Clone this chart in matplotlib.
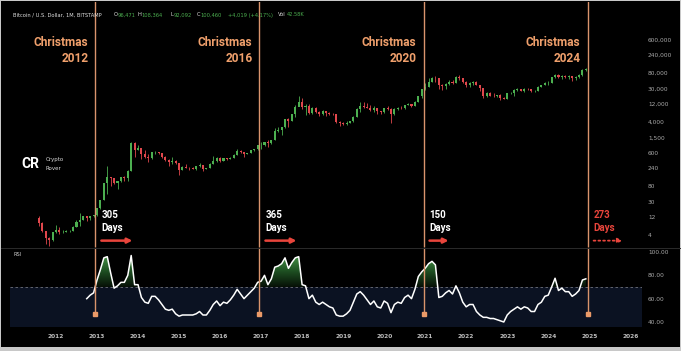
import numpy as np
import matplotlib.pyplot as plt
from matplotlib import transforms
from matplotlib.colors import LinearSegmentedColormap
from matplotlib.patches import Rectangle, PathPatch
from matplotlib.path import Path
from matplotlib.lines import Line2D

# --- data: BITSTAMP BTC/USD monthly candles, Aug 2011 .. Dec 2024 ---
first_month = 2011 + 7 / 12
first_open = 11.0

closes = [
    8.2, 5.1, 3.25, 3.0, 4.72,
    5.5, 4.9, 4.9, 5.0, 5.2, 6.7, 9.0, 10.1, 12.4, 11.2, 12.6, 13.5,
    20.4, 33.4, 93.0, 139, 129, 97, 106, 135, 133, 198, 1130, 732,
    800, 565, 455, 445, 628, 640, 585, 480, 387, 338, 378, 320,
    217, 254, 244, 236, 230, 263, 284, 230, 236, 313, 378, 430,
    368, 437, 416, 448, 531, 673, 624, 574, 609, 700, 742, 964,
    965, 1190, 1080, 1348, 2300, 2480, 2875, 4700, 4340, 6450, 9950, 13850,
    10220, 10330, 6930, 9240, 7500, 6400, 7730, 7030, 6625, 6300, 4020, 3740,
    3440, 3810, 4100, 5320, 8550, 10800, 10080, 9590, 8300, 9150, 7550, 7195,
    9350, 8540, 6420, 8620, 9450, 9140, 11330, 11650, 10780, 13790, 19700, 28990,
    33110, 45240, 58800, 57700, 37300, 35040, 41460, 47100, 43800, 61300, 57000, 46200,
    38480, 43180, 45530, 37640, 31790, 19940, 23300, 20050, 19430, 20490, 17170, 16540,
    23130, 23140, 28480, 29250, 27210, 30470, 29230, 25940, 26970, 34650, 37720, 42280,
    42580, 61170, 71290, 60670, 67520, 62700, 64630, 58970, 63330, 70290, 96450, 100460,
]
highs = [
    13.0, 8.7, 5.2, 3.5, 4.8,
    7.4, 6.5, 5.4, 5.3, 5.3, 6.9, 9.7, 15.4, 12.8, 12.6, 12.8, 13.9,
    20.5, 33.5, 93.0, 266, 140, 130, 110, 137, 145, 214, 1163, 1150,
    950, 830, 710, 548, 630, 680, 650, 600, 490, 415, 458, 380,
    320, 265, 300, 261, 247, 267, 317, 286, 244, 331, 496, 469,
    463, 447, 440, 467, 550, 780, 705, 626, 617, 720, 755, 975,
    1150, 1200, 1290, 1350, 2770, 2990, 2920, 4770, 4980, 6470, 11400, 19666,
    17200, 11780, 11700, 9750, 10000, 7780, 8500, 7770, 7400, 6970, 6590, 4230,
    4090, 4200, 4150, 5640, 9080, 13880, 13200, 12330, 10950, 10370, 9500, 7750,
    9580, 10500, 9190, 9470, 10080, 10400, 11430, 12470, 12050, 14100, 19900, 29300,
    41900, 58350, 61780, 64900, 59600, 41300, 42400, 50500, 52900, 67000, 69000, 59100,
    47900, 45800, 48200, 47400, 39000, 31900, 24700, 25200, 22800, 21000, 21500, 18400,
    23950, 25250, 29200, 31000, 29800, 31400, 31800, 30200, 27500, 35200, 38400, 44700,
    48970, 64000, 73800, 72800, 71900, 71900, 70000, 65100, 66500, 73600, 99800, 108364,
]
lows = [
    7.1, 4.8, 2.3, 2.0, 2.8,
    4.6, 4.2, 4.6, 4.7, 4.9, 5.2, 6.5, 7.1, 9.9, 9.6, 10.1, 12.2,
    12.9, 19.6, 33.2, 50, 79, 88, 65, 102, 109, 110, 196, 455,
    730, 420, 440, 340, 420, 550, 565, 440, 365, 275, 310, 300,
    152, 212, 240, 214, 226, 218, 253, 198, 224, 235, 306, 347,
    352, 366, 391, 414, 444, 530, 608, 470, 570, 605, 690, 740,
    750, 920, 890, 1065, 1330, 2130, 1840, 2700, 2980, 4110, 5500, 10700,
    9000, 6000, 6600, 6430, 7030, 5780, 6070, 5880, 6100, 6200, 3650, 3120,
    3360, 3390, 3670, 4030, 5320, 7440, 9070, 9320, 7710, 7300, 6520, 6430,
    6850, 8440, 3850, 6150, 8110, 8900, 8990, 10990, 9880, 10420, 13200, 17580,
    28100, 33400, 45000, 47000, 30000, 28800, 29300, 37300, 39600, 43300, 53300, 42000,
    32900, 34300, 37200, 37600, 26700, 17600, 18800, 19600, 18200, 18200, 15500, 16300,
    16500, 21400, 19600, 26900, 25800, 24800, 28900, 25200, 24900, 26600, 34100, 37600,
    38500, 41900, 59000, 59200, 56500, 58500, 53500, 49000, 52600, 58900, 66800, 92092,
]

# RSI(14), Oct 2012 .. Dec 2024
rsi_start = 2012 + 9 / 12
rsi = [
    60, 63, 65,
    76, 85, 95, 96, 82, 69, 71, 74, 74, 80, 97, 72,
    72, 61, 57, 56, 62, 62, 59, 55, 51, 50, 51, 47,
    45, 46, 46, 46, 46, 47, 49, 46, 46, 50, 55, 58,
    54, 57, 56, 59, 63, 68, 64, 60, 63, 66, 69, 74,
    75, 80, 72, 77, 87, 88, 90, 95, 86, 91, 95, 96,
    72, 71, 60, 63, 57, 55, 57, 55, 53, 52, 46, 45,
    45, 47, 50, 57, 64, 66, 63, 59, 55, 58, 53, 52,
    58, 56, 48, 55, 57, 56, 61, 63, 60, 68, 79, 83,
    86, 90, 92, 89, 61, 62, 65, 67, 64, 71, 65, 57,
    53, 55, 55, 49, 46, 44, 44, 43, 43, 42, 41, 40,
    46, 49, 51, 53, 51, 53, 52, 49, 49, 55, 57, 62,
    63, 70, 77.5, 67, 69, 66, 66, 62, 64, 67, 76, 77,
]

christmas_years = [2012, 2016, 2020, 2024]
days_after = ["305", "365", "150", "273"]
price_ticks = [4, 12, 30, 80, 240, 600, 1500, 4000, 12000, 30000, 80000, 240000, 600000]
rsi_ticks = [40, 60, 80, 100]
year_ticks = list(range(2012, 2027))

header_parts = [
    ("Bitcoin / U.S. Dollar, 1M, BITSTAMP", 13, "label"),
    ("O", 114, "label"), ("96,471", 117.5, "value"),
    ("H", 137, "label"), ("108,364", 141, "value"),
    ("L", 170.5, "label"), ("92,092", 174, "value"),
    ("C", 196.5, "label"), ("100,460", 200, "value"),
    ("+4,019 (+4.17%)", 228.5, "value"),
    ("Vol", 278, "label"), ("42.58K", 287, "value"),
]

# --- style ---
W, H = 681, 351
GREEN = "#4caf50"
RED = "#e0474c"
ORANGE_LINE = "#d9946c"
ORANGE_TXT = "#f0a06c"
ARROW_RED = "#e8453c"
NAVY = "#0b1222"
TICK_COL = "#a8a8a8"


def box(x0, y0, x1, y1):
    return [x0 / W, 1 - y1 / H, (x1 - x0) / W, (y1 - y0) / H]


fig = plt.figure(figsize=(W / 100, H / 100), dpi=100, facecolor="#c8c8c8")
fig.patches.append(Rectangle((1 / W, 4 / H), 679 / W, 346 / H, transform=fig.transFigure,
                             facecolor="black", edgecolor="none", zorder=-1))

x_left, x_right = 2010.879, 2026.286

ax = fig.add_axes(box(10, 2, 642, 247))
ax2 = fig.add_axes(box(10, 247, 642, 327), sharex=ax)
for a in (ax, ax2):
    a.set_facecolor("none")
    for s in a.spines.values():
        s.set_visible(False)

# --- candles ---
c = np.array(closes, dtype=float)
o = np.r_[first_open, c[:-1]]
hi = np.array(highs, dtype=float)
lo = np.array(lows, dtype=float)
xm = first_month + np.arange(len(c)) / 12
cols = np.where(c >= o, GREEN, RED)

ax.set_yscale("log")
ax.vlines(xm, lo, hi, colors=cols, lw=0.6, zorder=3)
ax.bar(xm, np.abs(c - o), bottom=np.minimum(o, c), width=0.05, color=cols, zorder=4)

ax.set_xlim(x_left, x_right)
ax.set_ylim(1.922, 6.06e6)
ax.yaxis.tick_right()
ax.yaxis.set_minor_locator(plt.NullLocator())
ax.set_yticks(price_ticks)
ax.set_yticklabels([f"{v:,}" for v in price_ticks])
ax.tick_params(axis="y", length=0, pad=4.3, labelsize=4.2, labelcolor=TICK_COL)
ax.tick_params(axis="x", length=0, labelbottom=False)

# --- RSI panel ---
rx = rsi_start + np.arange(len(rsi)) / 12
ry = np.array(rsi, dtype=float)
ax2.axhspan(30, 70, color=NAVY, lw=0, zorder=0)
ax2.axhline(70, color="#6f717a", lw=0.6, ls=(0, (3, 3)), zorder=1)

fill = ax2.fill_between(rx, 70, ry, where=ry >= 70, interpolate=True, color="none", lw=0)
clip = PathPatch(Path.make_compound_path(*fill.get_paths()), transform=ax2.transData,
                 facecolor="none", edgecolor="none")
ax2.add_patch(clip)
cmap = LinearSegmentedColormap.from_list("ob", ["#061006", "#1f5223", "#4a9a4a"])
im = ax2.imshow(np.linspace(0, 1, 256).reshape(-1, 1), extent=[x_left, x_right, 70, 98],
                origin="lower", cmap=cmap, aspect="auto", zorder=2)
im.set_clip_path(clip)

ax2.plot(rx, ry, color="white", lw=1.1, zorder=5)

ax2.set_xlim(x_left, x_right)
ax2.set_ylim(35.71, 104.29)
ax2.yaxis.tick_right()
ax2.set_yticks(rsi_ticks)
ax2.set_yticklabels([f"{v:.2f}" for v in rsi_ticks])
ax2.tick_params(axis="y", length=0, pad=4.3, labelsize=4.2, labelcolor=TICK_COL)
ax2.set_xticks(year_ticks)
ax2.set_xticklabels([str(y) for y in year_ticks])
ax2.tick_params(axis="x", length=0, pad=5, labelsize=4.2, labelcolor="#bdbdbd")
for lab in ax2.get_xticklabels():
    lab.set_fontweight("bold")

fig.add_artist(Line2D([1 / W, 680 / W], [1 - 247.5 / H] * 2, color="#2b2b2b", lw=0.7))

# --- christmas lines + annotations ---
tr = transforms.blended_transform_factory(ax.transData, ax.transAxes)
for yr, days in zip(christmas_years, days_after):
    t = yr + 0.96
    ax.axvline(t, color=ORANGE_LINE, lw=1.0, zorder=6)
    ax2.vlines(t, 46.9, 104.29, color=ORANGE_LINE, lw=1.0, zorder=6)
    ax2.plot(t, 46.9, marker="s", ms=3.2, color="#eb9a68", zorder=7)

    ax.annotate(f"Christmas\n{yr}", xy=(t, 0.804), xycoords=tr, xytext=(-7, 0),
                textcoords="offset pixels", ha="right", va="center", color=ORANGE_TXT,
                fontsize=8.6, fontweight="bold", family="Roboto", linespacing=1.3)

    future = yr == 2024
    tcol = ARROW_RED if future else "white"
    ax.annotate(f"{days}\nDays", xy=(t, 0.104), xycoords=tr, xytext=(6, 0),
                textcoords="offset pixels", ha="left", va="center", color=tcol,
                fontsize=7.0, fontweight="bold", family="Roboto", linespacing=1.3)

    length = 19 if days == "150" else (29 if future else 31)
    head = transforms.offset_copy(tr, fig=fig, x=6 + length, y=0, units="dots")
    tail = transforms.offset_copy(tr, fig=fig, x=6, y=0, units="dots")
    ax.annotate("", xy=(t, 0.026), xycoords=head, xytext=(t, 0.026), textcoords=tail,
                arrowprops=dict(arrowstyle="-|>", color=ARROW_RED, lw=1.8 if not future else 1.3,
                                ls=":" if future else "-", mutation_scale=7,
                                shrinkA=0, shrinkB=0))

# --- header, logo, labels ---
for txt, xp, kind in header_parts:
    fig.text(xp / W, 1 - 15 / H, txt, fontsize=3.7, va="center", ha="left",
             color="#e0e0e0" if kind == "label" else "#4caf50")

fig.text(21.5 / W, 1 - 164 / H, "CR", fontsize=10, fontweight="bold", color="white",
         family="Roboto", va="center", ha="left")
fig.text(46 / W, 1 - 160 / H, "Crypto", fontsize=4, color="#d8d8d8", va="center", ha="left")
fig.text(46 / W, 1 - 168 / H, "Rover", fontsize=4, color="#d8d8d8", va="center", ha="left")
fig.text(13 / W, 1 - 255 / H, "RSI", fontsize=3.6, color="#d0d0d0", va="center", ha="left")

fig.savefig("out.png", dpi=100, facecolor=fig.get_facecolor())
